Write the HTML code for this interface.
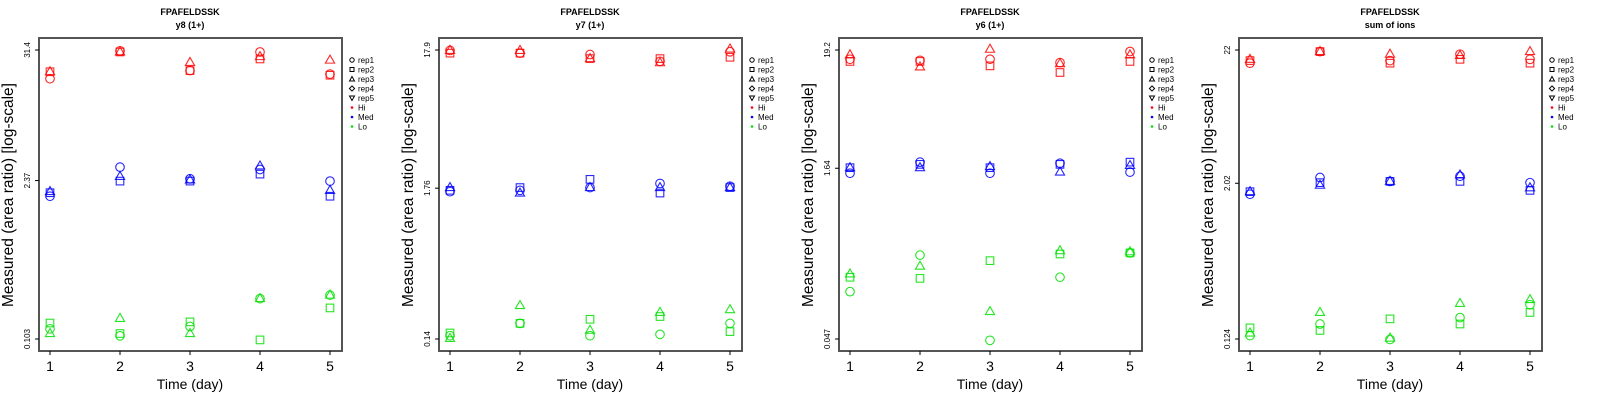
<!DOCTYPE html>
<html><head><meta charset="utf-8"><style>
body{margin:0;background:#fff;}
svg{display:block;font-family:"Liberation Sans",sans-serif;}
</style></head><body>
<svg id="chart" width="1600" height="400" xmlns="http://www.w3.org/2000/svg"></svg>
<script>
const days = [1,2,3,4,5];
const titles = ["y8 (1+)","y7 (1+)","y6 (1+)","sum of ions"];
const tickLabels = [["31.4","2.37","0.103"],["17.9","1.76","0.14"],["19.2","1.64","0.047"],["22","2.02","0.124"]];
const tickValues = [[31.4,2.37,0.103],[17.9,1.76,0.14],[19.2,1.64,0.047],[22,2.02,0.124]];
// log10 of measured area ratio, per panel, per group, per replicate (rep1, rep2, rep3) over days 1..5
const p1HiRep1=[1.25,1.49,1.32,1.48,1.29], p1HiRep2=[1.31,1.48,1.32,1.42,1.28], p1HiRep3=[1.31,1.48,1.39,1.44,1.41];
const p1MedRep1=[0.24,0.49,0.39,0.47,0.37], p1MedRep2=[0.27,0.37,0.37,0.43,0.24], p1MedRep3=[0.28,0.41,0.38,0.50,0.29];
const p1LoRep1=[-0.90,-0.96,-0.88,-0.64,-0.61], p1LoRep2=[-0.85,-0.94,-0.84,-0.995,-0.72], p1LoRep3=[-0.94,-0.81,-0.94,-0.64,-0.61];
const p2HiRep1=[1.25,1.23,1.22,1.17,1.24], p2HiRep2=[1.23,1.23,1.19,1.19,1.20], p2HiRep3=[1.25,1.25,1.19,1.16,1.26];
const p2MedRep1=[0.22,0.23,0.25,0.28,0.26], p2MedRep2=[0.23,0.25,0.31,0.21,0.25], p2MedRep3=[0.25,0.21,0.25,0.25,0.25];
const p2LoRep1=[-0.83,-0.74,-0.83,-0.82,-0.74], p2LoRep2=[-0.81,-0.74,-0.71,-0.69,-0.80], p2LoRep3=[-0.85,-0.61,-0.79,-0.66,-0.64];
const p3HiRep1=[1.20,1.19,1.20,1.17,1.27], p3HiRep2=[1.18,1.18,1.14,1.08,1.18], p3HiRep3=[1.24,1.13,1.29,1.16,1.24];
const p3MedRep1=[0.17,0.27,0.17,0.26,0.18], p3MedRep2=[0.22,0.25,0.22,0.25,0.27], p3MedRep3=[0.22,0.22,0.23,0.18,0.24];
const p3LoRep1=[-0.90,-0.57,-1.34,-0.77,-0.55], p3LoRep2=[-0.77,-0.78,-0.62,-0.56,-0.55], p3LoRep3=[-0.74,-0.67,-1.08,-0.53,-0.54];
const p4HiRep1=[1.24,1.33,1.26,1.31,1.27], p4HiRep2=[1.26,1.33,1.24,1.27,1.24], p4HiRep3=[1.27,1.33,1.31,1.30,1.33];
const p4MedRep1=[0.22,0.35,0.32,0.36,0.31], p4MedRep2=[0.24,0.31,0.32,0.32,0.25], p4MedRep3=[0.24,0.29,0.32,0.37,0.27];
const p4LoRep1=[-0.88,-0.79,-0.91,-0.74,-0.64], p4LoRep2=[-0.82,-0.84,-0.75,-0.79,-0.70], p4LoRep3=[-0.86,-0.70,-0.90,-0.63,-0.60];
const legendLabels=["rep1","rep2","rep3","rep4","rep5","Hi","Med","Lo"];

const panels=[
 [[p1HiRep1,p1HiRep2,p1HiRep3],[p1MedRep1,p1MedRep2,p1MedRep3],[p1LoRep1,p1LoRep2,p1LoRep3]],
 [[p2HiRep1,p2HiRep2,p2HiRep3],[p2MedRep1,p2MedRep2,p2MedRep3],[p2LoRep1,p2LoRep2,p2LoRep3]],
 [[p3HiRep1,p3HiRep2,p3HiRep3],[p3MedRep1,p3MedRep2,p3MedRep3],[p3LoRep1,p3LoRep2,p3LoRep3]],
 [[p4HiRep1,p4HiRep2,p4HiRep3],[p4MedRep1,p4MedRep2,p4MedRep3],[p4LoRep1,p4LoRep2,p4LoRep3]]];
const colors=["#ff0000","#0000ff","#00e000"];
const groupNames=["hi","med","lo"];
const NS="http://www.w3.org/2000/svg";
const svg=document.getElementById('chart');
function mk(tag,attrs,parent,text){const e=document.createElementNS(NS,tag);for(const k in attrs)e.setAttribute(k,attrs[k]);if(text!==undefined)e.textContent=text;parent.appendChild(e);return e;}

panels.forEach((groups,pi)=>{
 const ox=pi*400;
 const g=mk('g',{},svg);
 
 
 const L=39,R=342,T=38,B=351;
 const ymax=Math.log10(tickValues[pi][0]), ymin=Math.log10(tickValues[pi][2]);
 const yS=v=>339-(v-ymin)/(ymax-ymin)*289;
 const xS=d=>50+(d-1)/4*280;
 const t1=mk('text',{x:ox+190,y:15,'text-anchor':'middle','font-size':9,'font-weight':'bold'},g,'FPAFELDSSK');
 
 
 const t2=mk('text',{x:ox+190,y:28,'text-anchor':'middle','font-size':9,'font-weight':'bold'},g,titles[pi]);
 
 
 const box=mk('rect',{x:ox+L,y:T,width:R-L,height:B-T,fill:'none',stroke:'#555','stroke-width':2},g);
 
 
 tickValues[pi].forEach((tv,ti)=>{
  const y=yS(Math.log10(tv));
  mk('line',{x1:ox+35,x2:ox+L,y1:y,y2:y,stroke:'#000','stroke-width':1},g);
  const tl=mk('text',{x:0,y:0,transform:`translate(${ox+30},${y}) rotate(-90)`,'text-anchor':'middle','font-size':8},g,tickLabels[pi][ti]);
  
  
 });
 days.forEach(d=>{
  const x=xS(d);
  mk('line',{x1:ox+x,x2:ox+x,y1:B,y2:B+4,stroke:'#000','stroke-width':1},g);
  const xl=mk('text',{x:ox+x,y:371,'text-anchor':'middle','font-size':14},g,String(d));
  
  
 });
 const xt=mk('text',{x:ox+190,y:389,'text-anchor':'middle','font-size':14},g,'Time (day)');
 
 
 const yt=mk('text',{x:0,y:0,transform:`translate(${ox+13},195) rotate(-90)`,'text-anchor':'middle','font-size':15.5},g,'Measured (area ratio) [log-scale]');
 
 
 groups.forEach((reps,gi)=>{
  reps.forEach((vals,ri)=>{
   vals.forEach((v,di)=>{
    const cx=ox+xS(days[di]), cy=yS(v);
    const st={fill:'none',stroke:colors[gi],'stroke-width':1.1,'stroke-opacity':0.85};
    let m;
    if(ri===0) m=mk('circle',Object.assign({cx:cx,cy:cy,r:4.3},st),g);
    else if(ri===1) m=mk('rect',Object.assign({x:cx-3.8,y:cy-3.8,width:7.6,height:7.6},st),g);
    else m=mk('polygon',Object.assign({points:`${cx},${cy-5} ${cx-4.6},${cy+3} ${cx+4.6},${cy+3}`},st),g);
    
    
   });
  });
 });
 const lg=mk('g',{},g);
 
 
 legendLabels.forEach((lab,li)=>{
  const y=60+li*9.5, sx=ox+352;
  const st={fill:'none',stroke:'#000','stroke-width':1};
  if(li===0) mk('circle',Object.assign({cx:sx,cy:y,r:2.2},st),lg);
  else if(li===1) mk('rect',Object.assign({x:sx-2,y:y-2,width:4,height:4},st),lg);
  else if(li===2) mk('polygon',Object.assign({points:`${sx},${y-2.5} ${sx-2.5},${y+2} ${sx+2.5},${y+2}`},st),lg);
  else if(li===3) mk('polygon',Object.assign({points:`${sx},${y-2.6} ${sx+2.6},${y} ${sx},${y+2.6} ${sx-2.6},${y}`},st),lg);
  else if(li===4) mk('polygon',Object.assign({points:`${sx},${y+2.5} ${sx-2.5},${y-2} ${sx+2.5},${y-2}`},st),lg);
  else mk('circle',{cx:sx,cy:y,r:1.3,fill:colors[li-5]},lg);
  const lt=mk('text',{x:sx+6,y:y+3,'font-size':8},lg,lab);
  
  
 });
});
</script>
</body></html>
